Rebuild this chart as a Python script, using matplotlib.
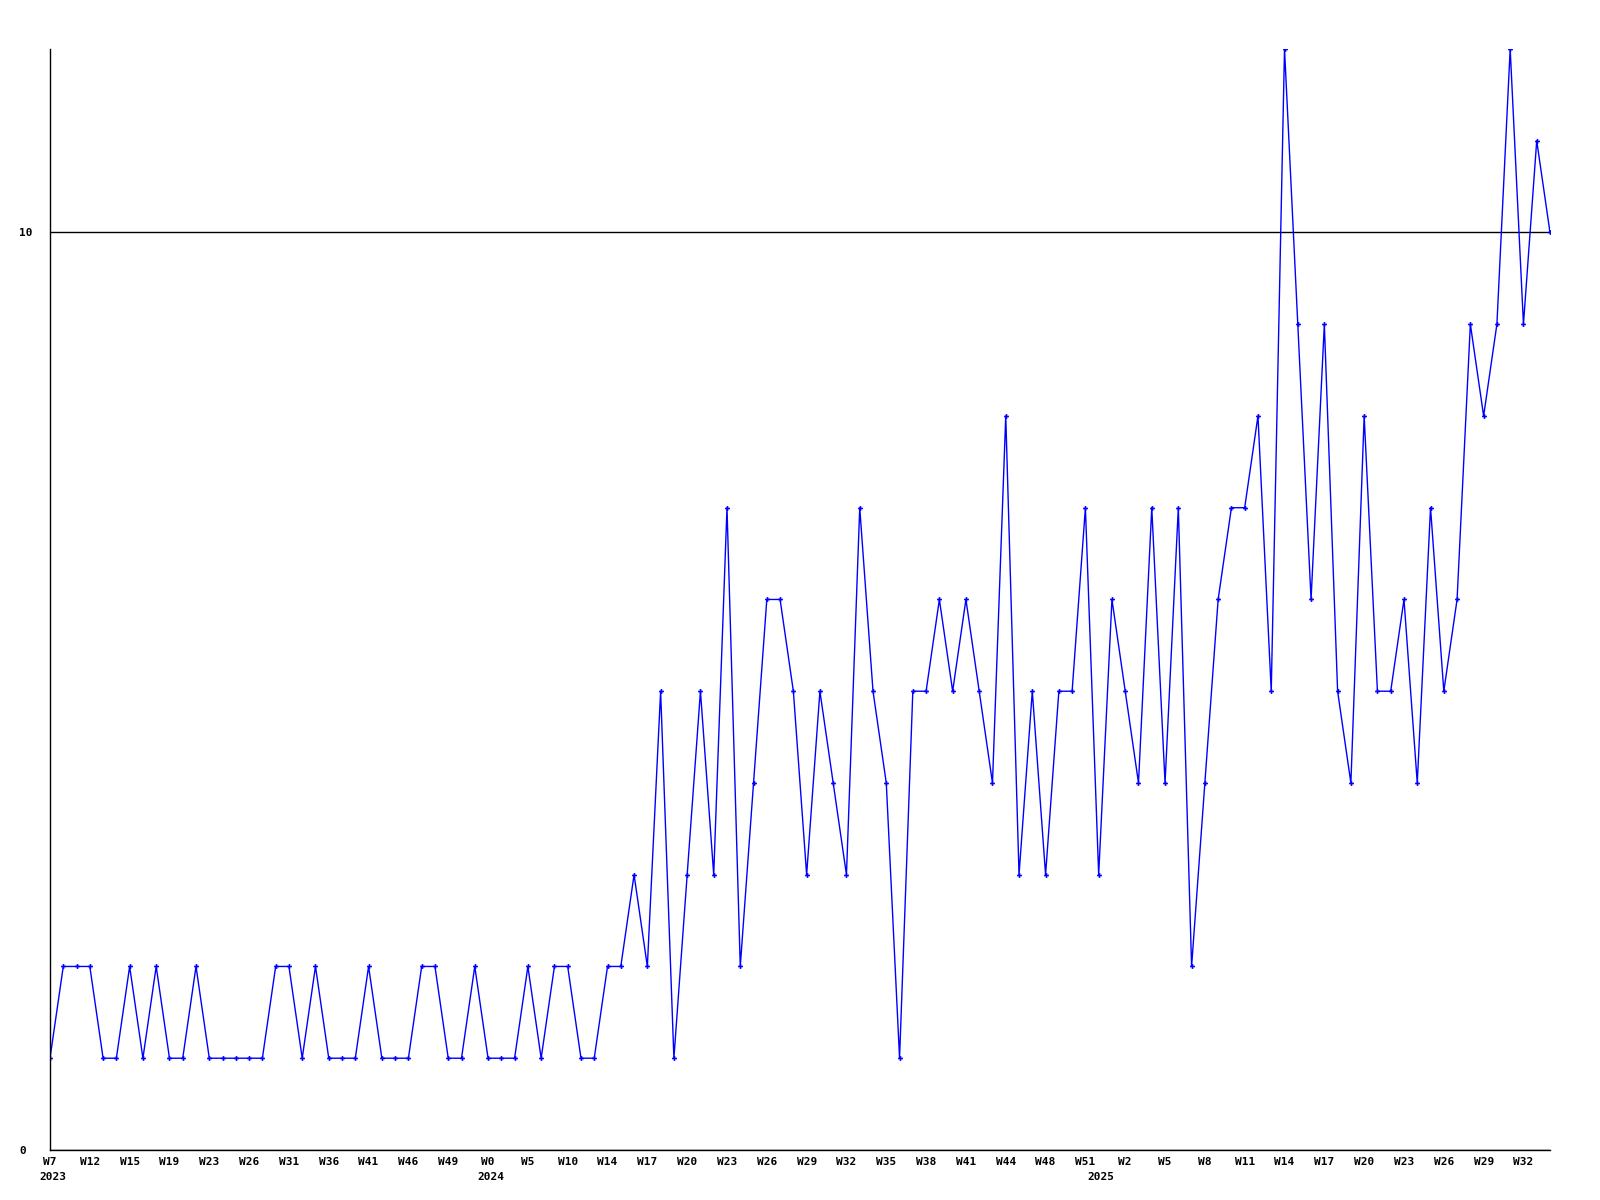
import matplotlib
matplotlib.use('Agg')
import matplotlib.pyplot as plt
import matplotlib.transforms as mtransforms

# weekly values, one per point
values = [1, 2, 2, 2, 1, 1, 2, 1, 2, 1, 1, 2, 1, 1, 1, 1, 1, 2, 2, 1,
          2, 1, 1, 1, 2, 1, 1, 1, 2, 2, 1, 1, 2, 1, 1, 1, 2, 1, 2, 2,
          1, 1, 2, 2, 3, 2, 5, 1, 3, 5, 3, 7, 2, 4, 6, 6, 5, 3, 5, 4,
          3, 7, 5, 4, 1, 5, 5, 6, 5, 6, 5, 4, 8, 3, 5, 3, 5, 5, 7, 3,
          6, 5, 4, 7, 4, 7, 2, 4, 6, 7, 7, 8, 5, 12, 9, 6, 9, 5, 4, 8,
          5, 5, 6, 4, 7, 5, 6, 9, 8, 9, 12, 9, 11, 10]

# labels shown on every third point
week_labels = ['W7', 'W12', 'W15', 'W19', 'W23', 'W26', 'W31', 'W36', 'W41', 'W46',
               'W49', 'W0', 'W5', 'W10', 'W14', 'W17', 'W20', 'W23', 'W26', 'W29',
               'W32', 'W35', 'W38', 'W41', 'W44', 'W48', 'W51', 'W2', 'W5', 'W8',
               'W11', 'W14', 'W17', 'W20', 'W23', 'W26', 'W29', 'W32']
year_labels = ['2023', '2024', '2025']
year_points = [0, 33, 79]

y_ticks = [0, 10]

x = list(range(len(values)))

fig = plt.figure(figsize=(16, 12), dpi=100)
ax = fig.add_axes([0.03125, 0.0417, 0.9375, 0.9175])

ax.plot(x, values, color='#0000ff', lw=1, marker='P', markersize=3.5,
        markeredgewidth=0)

ax.set_xlim(0, len(values) - 1)
ax.set_ylim(0, 12)

font = dict(family='DejaVu Sans Mono', weight='bold', size=8)

ax.set_xticks(x[::3][:len(week_labels)])
ax.set_xticklabels(week_labels, **font)
shift = mtransforms.ScaledTranslation(-2 / 100, 0, fig.dpi_scale_trans)
for lbl in ax.get_xticklabels():
    lbl.set_transform(lbl.get_transform() + shift)
ax.set_yticks(y_ticks)
ax.set_yticklabels([str(v) for v in y_ticks], **font)
for lbl in ax.get_yticklabels():
    lbl.set_horizontalalignment('left')
ax.tick_params(axis='x', length=0, pad=5)
ax.tick_params(axis='y', length=0, pad=22)

ax.grid(axis='y', color='black', lw=1)
ax.set_axisbelow(True)

for s in ['top', 'right']:
    ax.spines[s].set_visible(False)
for s in ['left', 'bottom']:
    ax.spines[s].set_color('black')
    ax.spines[s].set_linewidth(1)

trans = mtransforms.blended_transform_factory(ax.transData, ax.transAxes)
trans = trans + mtransforms.ScaledTranslation(-11 / 100, -22 / 100, fig.dpi_scale_trans)
for pos, lab in zip(year_points, year_labels):
    ax.text(pos, 0, lab, transform=trans, ha='left', va='top', clip_on=False, **font)

fig.savefig('out.png', dpi=100)
